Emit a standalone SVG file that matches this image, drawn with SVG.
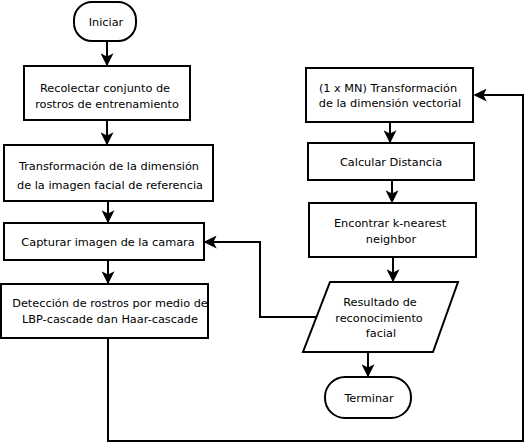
<svg xmlns="http://www.w3.org/2000/svg" width="526" height="443" viewBox="0 0 526 443">
<style>
.s{fill:#fff;stroke:#000;stroke-width:2}
.c{fill:none;stroke:#000;stroke-width:2}
text{font-family:"DejaVu Sans",Verdana,sans-serif;font-size:11.3px;fill:#000;text-anchor:middle}
</style>
<defs>
<marker id="a" viewBox="0 0 10 10" refX="9" refY="5" markerWidth="6.5" markerHeight="6.5" orient="auto" markerUnits="strokeWidth">
<path d="M0,0 L10,5 L0,10 L2.5,5 Z" fill="#000"/>
</marker>
</defs>
<rect width="526" height="443" fill="#fff"/>
<g id="connectors">
<path class="c" d="M107,41 V65" marker-end="url(#a)"/>
<path class="c" d="M107,120 V144" marker-end="url(#a)"/>
<path class="c" d="M108,201 V222" marker-end="url(#a)"/>
<path class="c" d="M108,260 V283" marker-end="url(#a)"/>
<path class="c" d="M108,338 V441 H523 V95 H475" marker-end="url(#a)"/>
<path class="c" d="M390,122 V142" marker-end="url(#a)"/>
<path class="c" d="M392,180 V202" marker-end="url(#a)"/>
<path class="c" d="M393,257 V281" marker-end="url(#a)"/>
<path class="c" d="M316,317 H260 V242 H205" marker-end="url(#a)"/>
<path class="c" d="M368,352 V376" marker-end="url(#a)"/>
</g>
<g id="iniciar">
<rect class="s" x="74" y="2" width="62" height="39" rx="18" ry="18"/>
<text x="106" y="26">Iniciar</text>
</g>
<g id="recolectar">
<rect class="s" x="24" y="66" width="166" height="54"/>
<text x="105" y="92">Recolectar conjunto de</text>
<text x="107" y="108">rostros de entrenamiento</text>
</g>
<g id="transformacion">
<rect class="s" x="4" y="145" width="209" height="56"/>
<text x="109" y="170">Transformación de la dimensión</text>
<text x="110" y="189">de la imagen facial de referencia</text>
</g>
<g id="capturar">
<rect class="s" x="4" y="223" width="200" height="37"/>
<text x="108" y="246">Capturar imagen de la camara</text>
</g>
<g id="deteccion">
<rect class="s" x="1" y="284" width="207" height="54"/>
<text x="110" y="307">Detección de rostros por medio de</text>
<text x="110" y="323">LBP-cascade dan Haar-cascade</text>
</g>
<g id="vectorial">
<rect class="s" x="306" y="68" width="167" height="54"/>
<text x="388" y="92">(1 x MN) Transformación</text>
<text x="390" y="107">de la dimensión vectorial</text>
</g>
<g id="calcular">
<rect class="s" x="308" y="143" width="166" height="37"/>
<text x="391" y="166">Calcular Distancia</text>
</g>
<g id="encontrar">
<rect class="s" x="309" y="203" width="167" height="54"/>
<text x="390" y="227">Encontrar k-nearest</text>
<text x="391" y="243">neighbor</text>
</g>
<g id="resultado">
<polygon class="s" points="330,282 458,282 433,352 303,352"/>
<text x="380" y="306">Resultado de</text>
<text x="379" y="322">reconocimiento</text>
<text x="381" y="337">facial</text>
</g>
<g id="terminar">
<rect class="s" x="325" y="377" width="86" height="41" rx="20" ry="20"/>
<text x="369" y="402">Terminar</text>
</g>
</svg>
